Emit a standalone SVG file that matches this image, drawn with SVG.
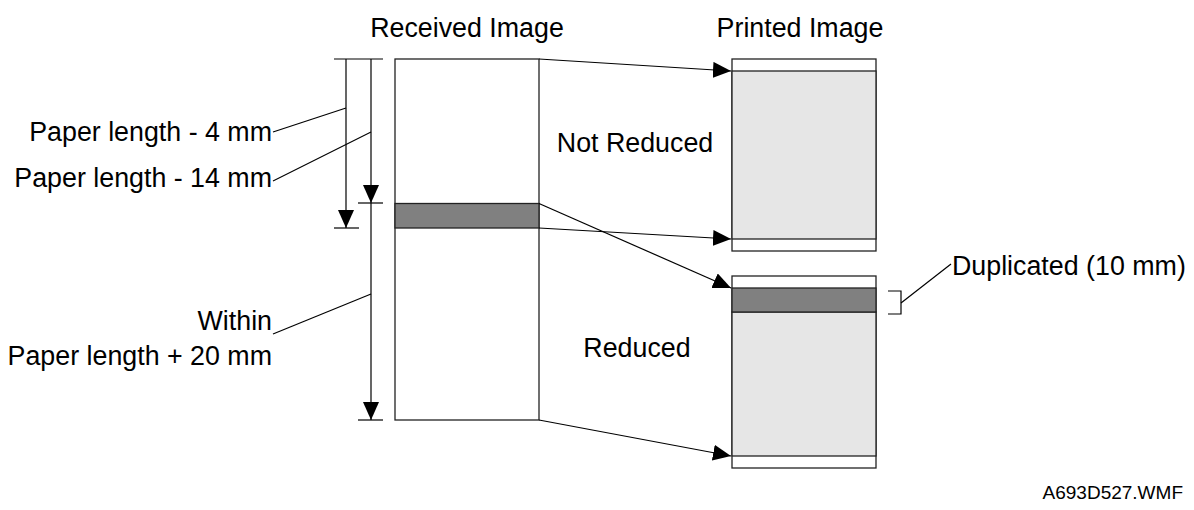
<svg xmlns="http://www.w3.org/2000/svg" width="1194" height="510" viewBox="0 0 1194 510">
<defs>
<marker id="ah" viewBox="0 0 18 16" refX="18" refY="8" markerWidth="18" markerHeight="16" markerUnits="userSpaceOnUse" orient="auto">
<path d="M0,0 L18,8 L0,16 Z" fill="#000"/>
</marker>
<style>
text{font-family:"Liberation Sans",Arial,sans-serif;font-size:26.8px;fill:#000}
.ln{stroke:#000;stroke-width:1.2;fill:none}
.fr{stroke:#222;stroke-width:1.3}
</style>
</defs>
<rect width="1194" height="510" fill="#fff"/>
<g id="titles">
<text x="467" y="37" text-anchor="middle">Received Image</text>
<text x="800" y="37" text-anchor="middle">Printed Image</text>
</g>
<g id="received">
<rect x="395" y="59" width="144" height="361" fill="#fff" class="fr"/>
<rect x="395" y="203.5" width="144" height="24.5" fill="#808080" class="fr"/>
</g>
<g id="printed-not-reduced">
<rect x="732" y="59" width="144" height="192" fill="#fff" class="fr"/>
<rect x="732" y="71" width="144" height="168" fill="#e6e6e6" class="fr"/>
</g>
<g id="printed-reduced">
<rect x="732" y="276" width="144" height="192" fill="#fff" class="fr"/>
<rect x="732" y="312" width="144" height="144" fill="#e6e6e6" class="fr"/>
<rect x="732" y="288" width="144" height="24" fill="#808080" class="fr"/>
</g>
<g id="labels">
<text x="635" y="152" text-anchor="middle">Not Reduced</text>
<text x="637" y="357" text-anchor="middle">Reduced</text>
<text x="272" y="141" text-anchor="end">Paper length - 4 mm</text>
<text x="272" y="187" text-anchor="end">Paper length - 14 mm</text>
<text x="272" y="330" text-anchor="end">Within</text>
<text x="272" y="365" text-anchor="end">Paper length + 20 mm</text>
<text x="952" y="275">Duplicated (10 mm)</text>
<text x="1183" y="499" text-anchor="end" style="font-size:19px">A693D527.WMF</text>
</g>
<g id="connectors">
<line class="ln" x1="334" y1="59" x2="383" y2="59"/>
<line class="ln" x1="334" y1="228" x2="359" y2="228"/>
<line class="ln" x1="358" y1="203" x2="383" y2="203"/>
<line class="ln" x1="358" y1="420" x2="383" y2="420"/>
<line class="ln" x1="346" y1="59" x2="346" y2="228" marker-end="url(#ah)"/>
<line class="ln" x1="371" y1="59" x2="371" y2="203" marker-end="url(#ah)"/>
<line class="ln" x1="371" y1="203" x2="371" y2="420" marker-end="url(#ah)"/>
<line class="ln" x1="273" y1="132" x2="346" y2="108"/>
<line class="ln" x1="273" y1="181" x2="371" y2="132"/>
<line class="ln" x1="273" y1="334" x2="371" y2="294"/>
<line class="ln" x1="539" y1="59" x2="731" y2="71" marker-end="url(#ah)"/>
<line class="ln" x1="539" y1="203.5" x2="731" y2="288" marker-end="url(#ah)"/>
<line class="ln" x1="539" y1="228" x2="731" y2="239" marker-end="url(#ah)"/>
<line class="ln" x1="539" y1="420" x2="731" y2="456" marker-end="url(#ah)"/>
<path class="ln" d="M888,291 H901 V314 H888"/>
<line class="ln" x1="901" y1="303" x2="951" y2="264"/>
</g>
</svg>
